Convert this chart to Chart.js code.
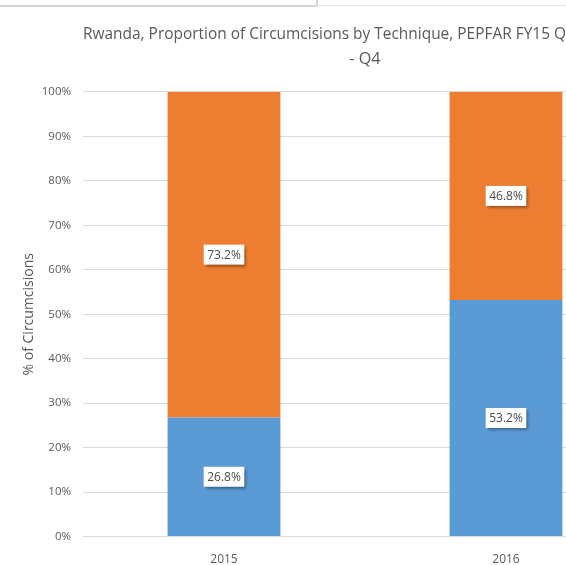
<!DOCTYPE html>
<html>
<head>
<meta charset="utf-8">
<script src="https://cdn.jsdelivr.net/npm/chart.js@4/dist/chart.umd.min.js"></script>
<style>
  html, body { margin: 0; padding: 0; background: #fff; overflow: hidden; width: 566px; height: 565px; }
  #wrap { position: relative; width: 566px; height: 565px; overflow: hidden; }
  canvas { position: absolute; left: 0; top: 0; }
  .ln { position: absolute; background: #d4d4d4; }
</style>
</head>
<body>
<div id="wrap">
  <canvas id="c" width="660" height="583"></canvas>
  <div class="ln" style="left:0;top:5px;width:317px;height:2px;"></div>
  <div class="ln" style="left:316px;top:0;width:2px;height:7px;"></div>
  <div class="ln" style="left:316px;top:5px;width:250px;height:1px;background:#e4e4e4;"></div>
</div>
<script>
const categories = ["2015", "2016"];
const seriesNames = ["Technique A", "Technique B"];
const blueValues = [26.8, 53.2];
const orangeValues = [73.2, 46.8];
const yTicks = [0, 10, 20, 30, 40, 50, 60, 70, 80, 90, 100];
const titleLines = ["Rwanda, Proportion of Circumcisions by Technique, PEPFAR FY15 Q1 - FY16 Q3", "- Q4"];

const FONT = "'Open Sans', 'Liberation Sans', sans-serif";

const labelPlugin = {
  id: 'boxLabels',
  afterDatasetsDraw(chart) {
    const ctx = chart.ctx;
    ctx.save();
    ctx.font = "12px " + FONT;
    ctx.textAlign = 'center';
    ctx.textBaseline = 'middle';
    chart.data.datasets.forEach((ds, di) => {
      const meta = chart.getDatasetMeta(di);
      meta.data.forEach((bar, i) => {
        const txt = ds.data[i].toFixed(1) + '%';
        const cy = (bar.y + bar.base) / 2;
        const w = ctx.measureText(txt).width + 7;
        const h = 20;
        ctx.save();
        ctx.shadowColor = 'rgba(0,0,0,0.45)';
        ctx.shadowBlur = 3;
        ctx.shadowOffsetX = 2;
        ctx.shadowOffsetY = 2;
        ctx.fillStyle = '#ffffff';
        ctx.fillRect(bar.x - w / 2, cy - h / 2, w, h);
        ctx.restore();
        ctx.fillStyle = '#4a4a4a';
        ctx.fillText(txt, bar.x, cy + 0.5);
      });
    });
    ctx.restore();
  }
};

new Chart(document.getElementById('c'), {
  type: 'bar',
  data: {
    labels: categories,
    datasets: [
      { label: seriesNames[0], data: blueValues, backgroundColor: '#5B9BD5', barPercentage: 0.4, categoryPercentage: 1.0 },
      { label: seriesNames[1], data: orangeValues, backgroundColor: '#ED7D31', barPercentage: 0.4, categoryPercentage: 1.0 }
    ]
  },
  options: {
    responsive: false,
    animation: false,
    devicePixelRatio: 1,
    layout: { padding: { left: 21, right: 13, top: 0, bottom: 0 } },
    plugins: {
      legend: { display: false },
      tooltip: { enabled: false },
      title: {
        display: true,
        fullSize: false,
        text: titleLines,
        color: '#595959',
        font: { family: FONT, size: 16.2, weight: 'normal', lineHeight: 1.6 },
        padding: { top: 21, bottom: 19 }
      }
    },
    scales: {
      x: {
        stacked: true,
        grid: { display: false, drawTicks: false },
        border: { display: false },
        ticks: { color: '#595959', font: { family: FONT, size: 12 }, padding: 16 }
      },
      y: {
        stacked: true,
        min: 0, max: 100,
        afterBuildTicks(s) { s.ticks = yTicks.map(v => ({ value: v })); },
        afterFit(s) { s.width = 62; },
        grid: { color: '#d9d9d9', drawTicks: false },
        border: { display: false },
        ticks: { color: '#595959', font: { family: FONT, size: 11.5 }, padding: 12, callback: v => v + '%' },
        title: { display: true, text: '% of Circumcisions', color: '#595959', font: { family: FONT, size: 14 }, padding: { top: 0, bottom: 4 } }
      }
    }
  },
  plugins: [labelPlugin]
});
</script>
</body>
</html>
